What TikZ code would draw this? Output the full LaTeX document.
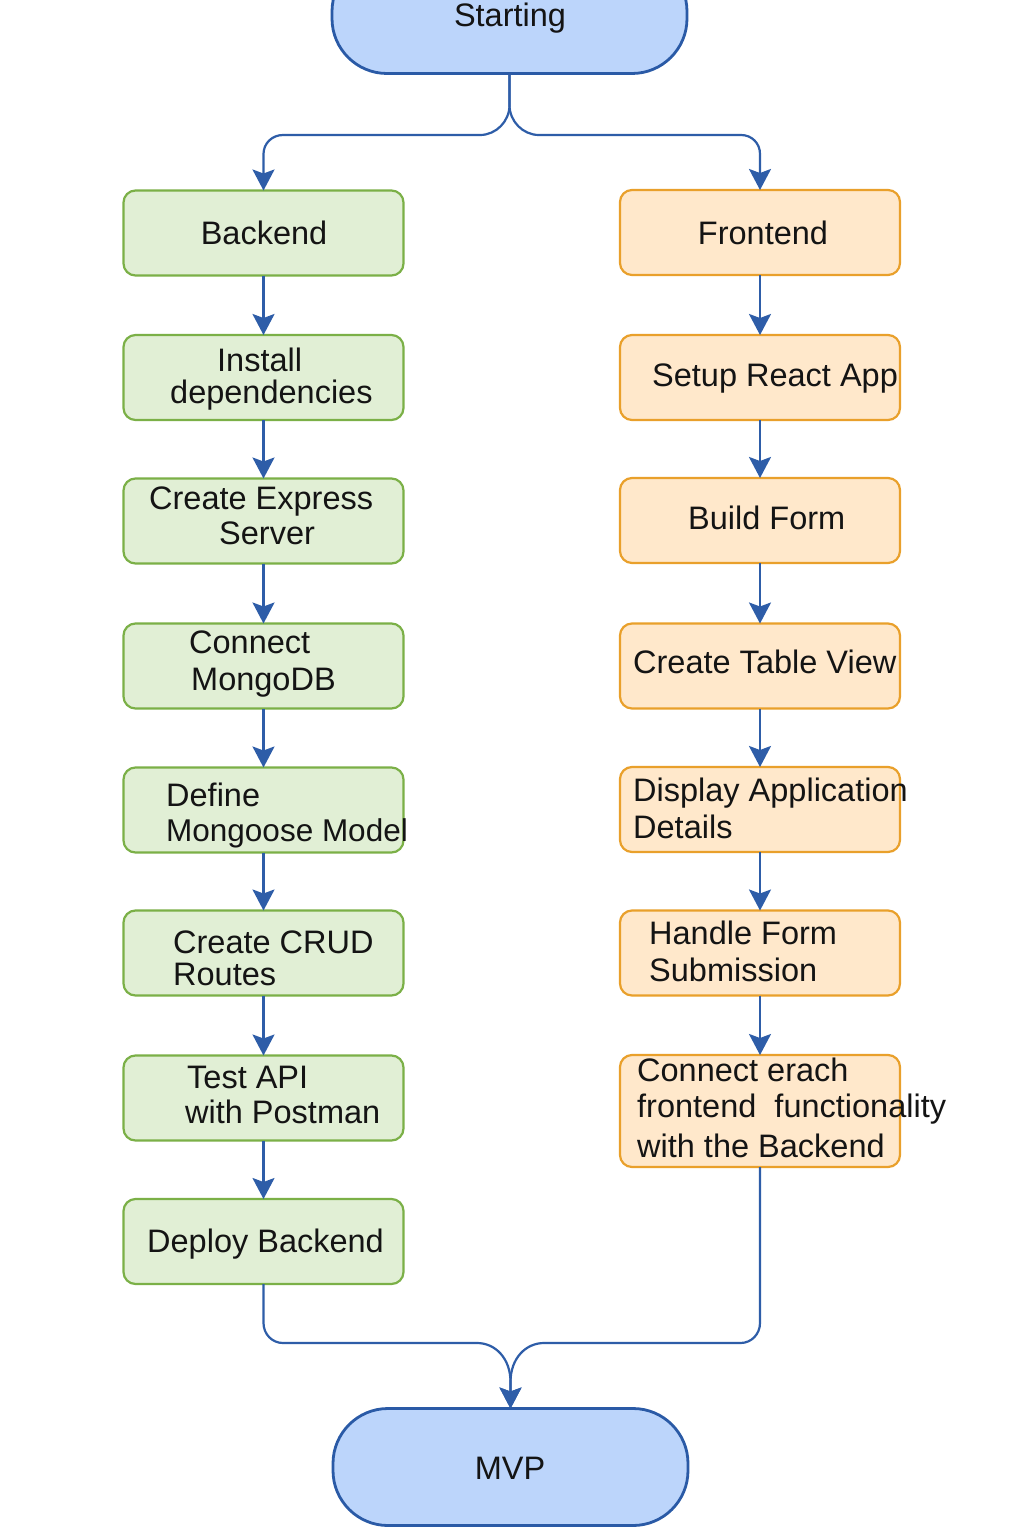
\documentclass[tikz,border=0pt]{standalone}
\usepackage{fontspec}
\setmainfont{Liberation Sans}
\usetikzlibrary{arrows.meta}
\definecolor{bfill}{HTML}{BCD5FB}
\definecolor{bborder}{HTML}{2A5AA6}
\definecolor{gfill}{HTML}{E1EFD5}
\definecolor{gborder}{HTML}{7BB047}
\definecolor{ofill}{HTML}{FFE8CB}
\definecolor{oborder}{HTML}{E9A02B}
\definecolor{acol}{HTML}{2E5DA8}
\definecolor{tcol}{HTML}{141414}
\begin{document}
\begin{tikzpicture}[x=1pt,y=-1pt,
  box/.style={draw, line width=2.2pt, rounded corners=12pt, minimum width=280pt, minimum height=85pt, inner sep=0pt, outer sep=0pt},
  greenbox/.style={box, draw=gborder, fill=gfill},
  orangebox/.style={box, draw=oborder, fill=ofill},
  term/.style={draw=bborder, fill=bfill, line width=2.8pt, rounded corners=55pt, minimum width=355pt, minimum height=117pt, inner sep=0pt, outer sep=0pt},
  txt/.style={inner sep=0pt, anchor=base west, text=tcol, font=\fontsize{32.5}{36}\selectfont},
  ctxt/.style={txt, anchor=base},
  arr/.style={draw=acol, line width=2.2pt, -{Stealth[length=21pt,width=22pt,inset=4pt]}}
]
\useasboundingbox[fill=white] (0,0) rectangle (1024,1536);

% terminals
\node[term] (st) at (509.5,15) {};
\node[term] (mvp) at (510.5,1467) {};

% left column
\node[greenbox] (bk)   at (263.5,233) {};
\node[greenbox] (ins)  at (263.5,377.5) {};
\node[greenbox] (exp)  at (263.5,521) {};
\node[greenbox] (mon)  at (263.5,666) {};
\node[greenbox] (def)  at (263.5,810) {};
\node[greenbox] (crud) at (263.5,953) {};
\node[greenbox] (test) at (263.5,1098) {};
\node[greenbox] (dep)  at (263.5,1241.5) {};

% right column
\node[orangebox] (fe)  at (760,232.5) {};
\node[orangebox] (sra) at (760,377.5) {};
\node[orangebox] (bf)  at (760,520.5) {};
\node[orangebox] (tv)  at (760,666) {};
\node[orangebox] (da)  at (760,809.5) {};
\node[orangebox] (hf)  at (760,953) {};
\node[orangebox, minimum height=112pt] (ce) at (760,1111) {};

% connectors
\draw[arr] (st.south) -- (509.5,105) .. controls (509.5,121.5) and (496,135) .. (480,135) -- (283,135) .. controls (272,135) and (263.5,143.5) .. (263.5,154) -- (bk.north);
\draw[arr] (st.south) -- (509.5,105) .. controls (509.5,121.5) and (523,135) .. (539,135) -- (741,135) .. controls (752,135) and (760,143.5) .. (760,154) -- (fe.north);

\draw[arr] (bk.south) -- (ins.north);
\draw[arr] (ins.south) -- (exp.north);
\draw[arr] (exp.south) -- (mon.north);
\draw[arr] (mon.south) -- (def.north);
\draw[arr] (def.south) -- (crud.north);
\draw[arr] (crud.south) -- (test.north);
\draw[arr] (test.south) -- (dep.north);

\draw[arr] (fe.south) -- (sra.north);
\draw[arr] (sra.south) -- (bf.north);
\draw[arr] (bf.south) -- (tv.north);
\draw[arr] (tv.south) -- (da.north);
\draw[arr] (da.south) -- (hf.north);
\draw[arr] (hf.south) -- (ce.north);

\draw[arr] (dep.south) -- (263.5,1323) .. controls (263.5,1334) and (272,1343) .. (283,1343) -- (477,1343) .. controls (495,1343) and (510.5,1358) .. (510.5,1382) -- (mvp.north);
\draw[arr] (ce.south) -- (760,1323) .. controls (760,1334) and (751.5,1343) .. (740.5,1343) -- (544,1343) .. controls (526,1343) and (510.5,1358) .. (510.5,1382) -- (mvp.north);

% texts
\node[ctxt] (tst) at (510,27) {Starting};
\node[ctxt] (tmvp) at (510,1479) {MVP};

\node[ctxt] (tbk) at (264,244) {Backend};
\node[txt] (tins1) at (217,371) {Install};
\node[txt] (tins2) at (170,403) {dependencies};
\node[txt] (texp1) at (149,509) {Create Express};
\node[txt] (texp2) at (219,544) {Server};
\node[txt] (tmon1) at (189,653) {Connect};
\node[txt] (tmon2) at (191,690) {MongoDB};
\node[txt] (tdef1) at (166,806) {Define};
\node[txt, font=\fontsize{31.5}{36}\selectfont] (tdef2) at (166,841) {Mongoose Model};
\node[txt] (tcr1) at (173,953) {Create CRUD};
\node[txt] (tcr2) at (173,985) {Routes};
\node[txt] (tte1) at (187,1088) {Test API};
\node[txt] (tte2) at (185,1123) {with Postman};
\node[txt] (tdep) at (147,1252) {Deploy Backend};

\node[ctxt] (tfe) at (763,244) {Frontend};
\node[txt] (tsra) at (652,386) {Setup React App};
\node[txt] (tbf) at (688,529) {Build Form};
\node[txt] (ttv) at (633,673) {Create Table View};
\node[txt] (tda1) at (633,801) {Display Application};
\node[txt] (tda2) at (633,838) {Details};
\node[txt] (thf1) at (649,944) {Handle Form};
\node[txt] (thf2) at (649,981) {Submission};
\node[txt] (tce1) at (637,1081) {Connect erach};
\node[txt] (tce2) at (637,1117) {frontend\ \ functionality};
\node[txt] (tce3) at (637,1157) {with the Backend};
\end{tikzpicture}
\end{document}
